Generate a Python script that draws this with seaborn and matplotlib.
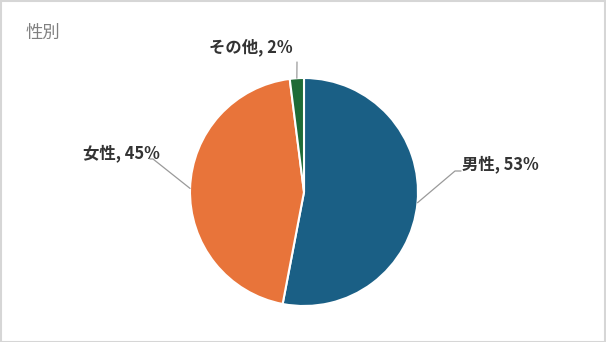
import numpy as np
import matplotlib
matplotlib.use("Agg")
import matplotlib.pyplot as plt
import seaborn as sns
from matplotlib.patches import Rectangle

categories = ["男性", "女性", "その他"]
values = [53, 45, 2]
colors = ["#1a5f85", "#e8743a", "#1e6b36"]
title = "性別"

sns.set_theme(style="white")
plt.rcParams['font.family'] = ['Noto Sans CJK JP', 'DejaVu Sans']

W, H = 606, 342
fig = plt.figure(figsize=(W / 100, H / 100), dpi=100)
fig.patch.set_facecolor("white")

cx, cy, r = 304, 192, 114
ax = fig.add_axes([(cx - r) / W, (H - cy - r) / H, 2 * r / W, 2 * r / H])
wedges, _ = ax.pie(values, colors=colors, startangle=90, counterclock=False,
                   wedgeprops=dict(edgecolor="white", linewidth=1.5))
ax.set_xlim(-1, 1)
ax.set_ylim(-1, 1)
ax.set_aspect("equal")
ax.axis("off")

# label elbows / text positions in figure pixels (layout only)
layout = {
    "男性": dict(elbow=(455, 171), end=(461, 171), text=(462, 164), ha="left"),
    "女性": dict(elbow=(153, 159), end=(150, 159), text=(160, 153), ha="right"),
    "その他": dict(elbow=(297, 62), end=(297, 62), text=(293, 47), ha="right"),
}

def px2data(px, py):
    return ((px - cx) / r, (cy - py) / r)

for w, cat, v in zip(wedges, categories, values):
    ang = np.deg2rad((w.theta1 + w.theta2) / 2)
    p0 = (np.cos(ang), np.sin(ang))
    L = layout[cat]
    e = px2data(*L["elbow"])
    e2 = px2data(*L["end"])
    ax.plot([p0[0], e[0], e2[0]], [p0[1], e[1], e2[1]], color="#9a9a9a",
            lw=0.9, clip_on=False)
    t = px2data(*L["text"])
    ax.text(t[0], t[1], f"{cat}, {v}%", ha=L["ha"], va="center",
            fontsize=11.8, fontweight="bold", color="#333333", clip_on=False)

fig.text(26 / W, 1 - 33 / H, title, ha="left", va="center", fontsize=12.5,
         color="#808080")

fig.patches.append(Rectangle((0.5 / W, 0.5 / H), 1 - 1.5 / W, 1 - 1.5 / H,
                             transform=fig.transFigure, fill=False,
                             edgecolor="#d6d6d6", lw=1.5))

fig.savefig("out.png", dpi=100)
